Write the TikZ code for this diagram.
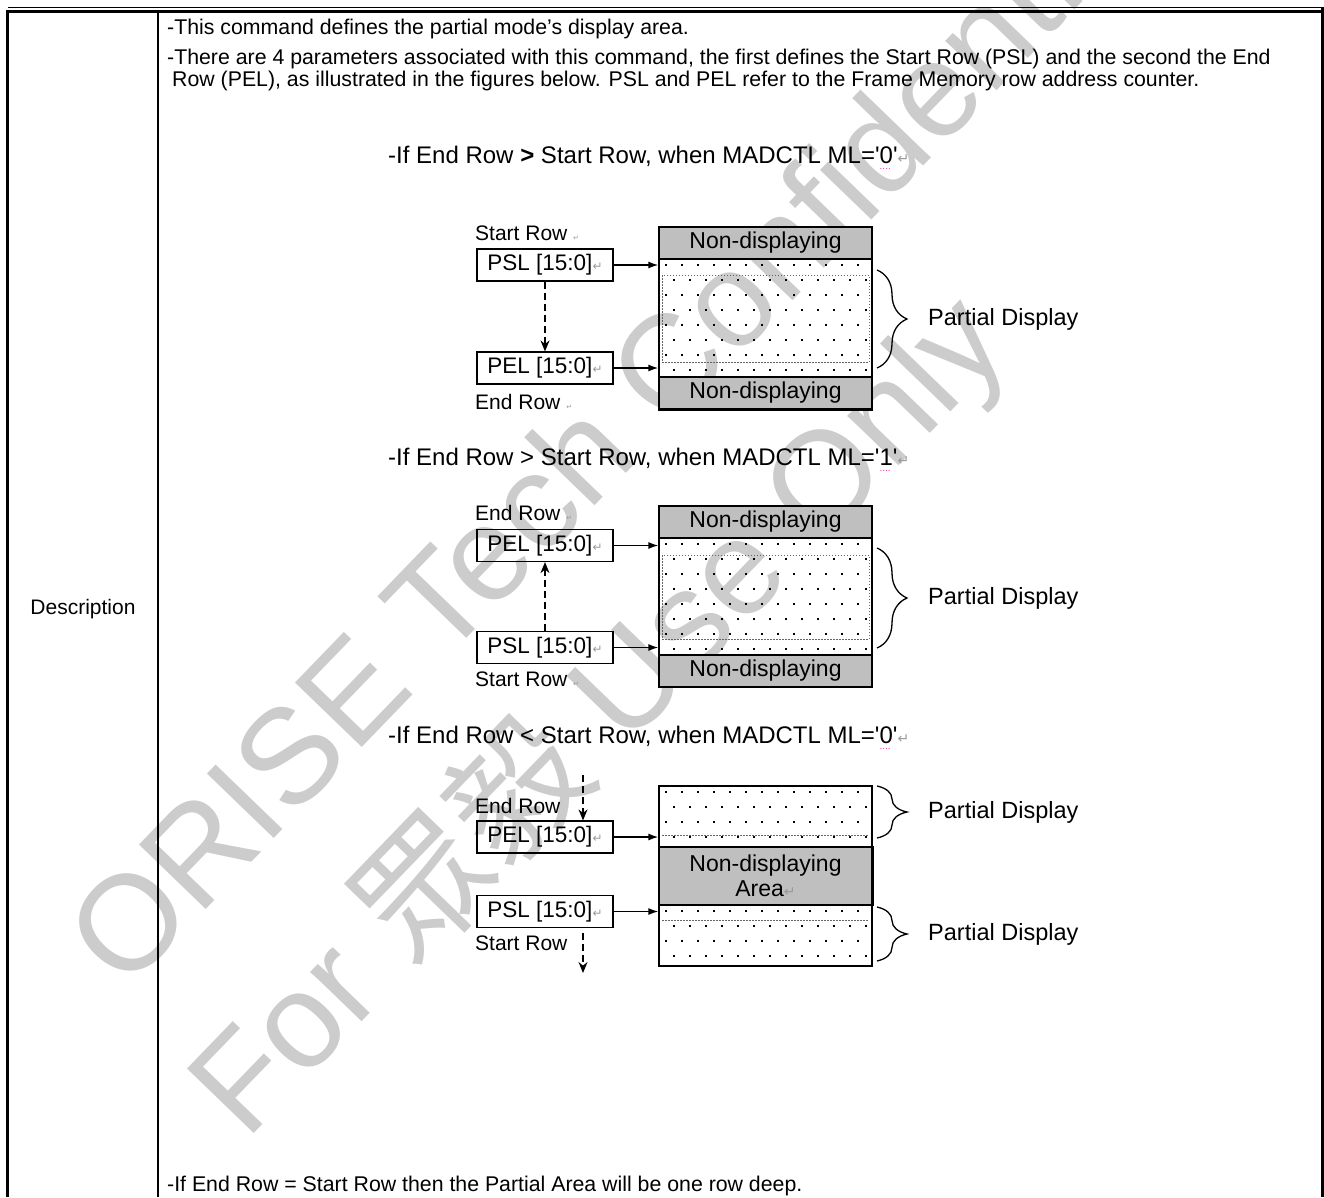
\documentclass[tikz,border=0pt]{standalone}
\usepackage{fontspec}
\setmainfont{Liberation Sans}
\newfontfamily\cjkfont{Noto Sans CJK TC}
\newfontfamily\markfont{DejaVu Sans}
\usetikzlibrary{arrows.meta,positioning,decorations.pathreplacing}

% small grey return mark of the editor
\newcommand{\retmark}[1][14]{{\markfont\fontsize{#1}{#1}\selectfont\textcolor{black!40}{↵}}}
% dotted grammar underline
\newcommand{\gram}[1]{\rlap{\raisebox{-6pt}{\textcolor{magenta!80}{\fontsize{10}{10}\selectfont ....}}}#1}
% dotted fill of a displayed area
\newcommand{\dotfield}[4]{%
  \begin{scope}
    \clip (#1+2,#2+2) rectangle (#3-2,#4-2);
    \foreach \r in {0,...,8}{%
      \pgfmathsetmacro{\off}{mod(\r,2)*8}%
      \foreach \c in {0,...,13}{%
        \fill ({#1+6+\off+16*\c},{#2+5+15*\r}) rectangle ++(1.6,1.6);
      }%
    }%
  \end{scope}}

\begin{document}
\begin{tikzpicture}[x=1pt,y=-1pt,
    body/.style={anchor=west, inner sep=0pt, font=\fontsize{21.3}{24}\selectfont},
    heading/.style={anchor=west, inner sep=0pt, font=\fontsize{24}{26}\selectfont},
    rowlabel/.style={anchor=west, inner sep=0pt, font=\fontsize{21}{24}\selectfont},
    regbox/.style={draw, line width=1.2pt, minimum width=136pt, minimum height=32pt,
      inner sep=0pt, font=\fontsize{22.5}{24}\selectfont},
    band/.style={draw, fill=black!25, line width=1.2pt, minimum width=213pt,
      minimum height=32pt, inner sep=0pt, font=\fontsize{23}{25}\selectfont},
    field/.style={draw, line width=1.2pt, minimum width=213pt, inner sep=0pt},
    partlabel/.style={anchor=west, inner sep=0pt, font=\fontsize{23.5}{26}\selectfont},
    arr/.style={line width=1.5pt, -{Latex[length=10pt,width=7pt]}},
    dasharr/.style={line width=1.3pt, dash pattern=on 7pt off 4pt, -{Stealth[length=11pt,width=9pt]}},
    partbrace/.style={decorate, decoration={brace, amplitude=30pt}, line width=1.3pt},
    innerline/.style={black!60, line width=1pt, dash pattern=on 1.5pt off 1.5pt},
    wmark/.style={black!20, anchor=base west, rotate=46, inner sep=0pt,
      font=\fontsize{135}{135}\selectfont}
  ]
  \clip (0,0) rectangle (1324,1197);

  % watermark
  \node[wmark] (wm1) at (125,993) {ORISE Tech Confidential};
  \node[wmark] (wm2) at (246,1142) {For {\cjkfont 眾毅} Use Only};

  % table
  \draw[line width=1.3pt] (8,7.5) -- (1324,7.5);
  \draw[line width=3pt] (6,11) -- (1321,11);
  \draw[line width=3pt] (7.5,11) -- (7.5,1197);
  \draw[line width=1.5pt] (158,11) -- (158,1197);
  \draw[line width=3pt] (1322,7) -- (1322,1197);
  \node[font=\fontsize{21}{24}\selectfont] (desc) at (83,609) {Description};

  % text
  \node[body] (t1) at (167,29) {-This command defines the partial mode’s display area.};
  \node[body] (t2) at (167,59) {-There are 4 parameters associated with this command, the first defines the Start Row (PSL) and the second the End};
  \node[body] (t3) at (172,81) {Row (PEL), as illustrated in the figures below. PSL and PEL refer to the Frame Memory row address counter.};
  \node[body] (t4) at (167,1186) {-If End Row = Start Row then the Partial Area will be one row deep.};

  % case 1
  \node[heading] (h1) at (388,158) {-If End Row \textbf{>} Start Row, when MADCTL ML=\textquotesingle\gram{0}\textquotesingle\retmark};
  \node[rowlabel] (sr1) at (475,233) {Start Row \retmark[7]};
  \node[regbox] (psl1) at (545,265) {PSL [15:0]\retmark[12]};
  \node[regbox] (pel1) at (545,368) {PEL [15:0]\retmark[12]};
  \node[rowlabel] (er1) at (475,402) {End Row \retmark[7]};
  \node[band] (nd1a) at (765.5,243) {Non-displaying};
  \node[field, minimum height=118pt] (fld1) at (765.5,318) {};
  \node[band] (nd1b) at (765.5,393) {Non-displaying};
  \draw[line width=3pt] (nd1b.south west) -- (nd1b.south east);
  \dotfield{659}{259}{872}{377}
  \draw[innerline] (662,275) rectangle (869,362);
  \draw[arr] (psl1.east) -- (psl1.east -| fld1.west);
  \draw[arr] (pel1.east) -- (pel1.east -| fld1.west);
  \draw[dasharr] (psl1) -- (pel1);
  \draw[partbrace] (877,270) -- (877,368);
  \node[partlabel] (pd1) at (928,319) {Partial Display};

  % case 2
  \node[heading] (h2) at (388,460) {-If End Row > Start Row, when MADCTL ML=\textquotesingle\gram{1}\textquotesingle\retmark};
  \node[rowlabel] (er2) at (475,513) {End Row \retmark[7]};
  \node[regbox] (pel2) at (545,545.5) {PEL [15:0]\retmark[12]};
  \node[regbox] (psl2) at (545,647.5) {PSL [15:0]\retmark[12]};
  \node[rowlabel] (sr2) at (475,679) {Start Row \retmark[7]};
  \node[band] (nd2a) at (765.5,522) {Non-displaying};
  \node[field, minimum height=117pt] (fld2) at (765.5,596.5) {};
  \node[band] (nd2b) at (765.5,671) {Non-displaying};
  \dotfield{659}{538}{872}{655}
  \draw[innerline] (662,555) rectangle (869,639);
  \draw[arr] (pel2.east) -- (pel2.east -| fld2.west);
  \draw[arr] (psl2.east) -- (psl2.east -| fld2.west);
  \draw[dasharr] (psl2) -- (pel2);
  \draw[partbrace] (877,548) -- (877,648);
  \node[partlabel] (pd2) at (928,598) {Partial Display};

  % case 3
  \node[heading] (h3) at (388,738) {-If End Row < Start Row, when MADCTL ML=\textquotesingle\gram{0}\textquotesingle\retmark};
  \coordinate (endin) at (583,775);
  \node[rowlabel] (er3) at (475,806) {End Row};
  \node[regbox] (pel3) at (545,837) {PEL [15:0]\retmark[12]};
  \node[regbox] (psl3) at (545,911.5) {PSL [15:0]\retmark[12]};
  \node[rowlabel] (sr3) at (475,943) {Start Row};
  \coordinate (startout) at (583,933);
  \coordinate (startend) at (583,973);
  \node[field, minimum height=61pt] (fld3a) at (765.5,816.5) {};
  \node[band, minimum height=58pt, align=center, font=\fontsize{23}{25}\selectfont] (nd3) at (765.5,876)
    {Non-displaying\\Area\retmark};
  \draw[line width=2.5pt] (nd3.north east) -- (nd3.south east);
  \node[field, minimum height=61pt] (fld3b) at (765.5,935.5) {};
  \dotfield{659}{786}{872}{847}
  \dotfield{659}{905}{872}{966}
  \draw[innerline] (662,835) -- (869,835);
  \draw[innerline] (662,920) -- (869,920);
  \draw[arr] (pel3.east) -- (pel3.east -| fld3a.west);
  \draw[arr] (psl3.east) -- (psl3.east -| fld3b.west);
  \draw[dasharr] (endin) -- (endin |- pel3.north);
  \draw[dasharr] (startout) -- (startend);
  \draw[partbrace] (877,786) -- (877,838);
  \node[partlabel] (pd3) at (928,812) {Partial Display};
  \draw[partbrace] (877,907) -- (877,961);
  \node[partlabel] (pd4) at (928,934) {Partial Display};
\end{tikzpicture}
\end{document}
